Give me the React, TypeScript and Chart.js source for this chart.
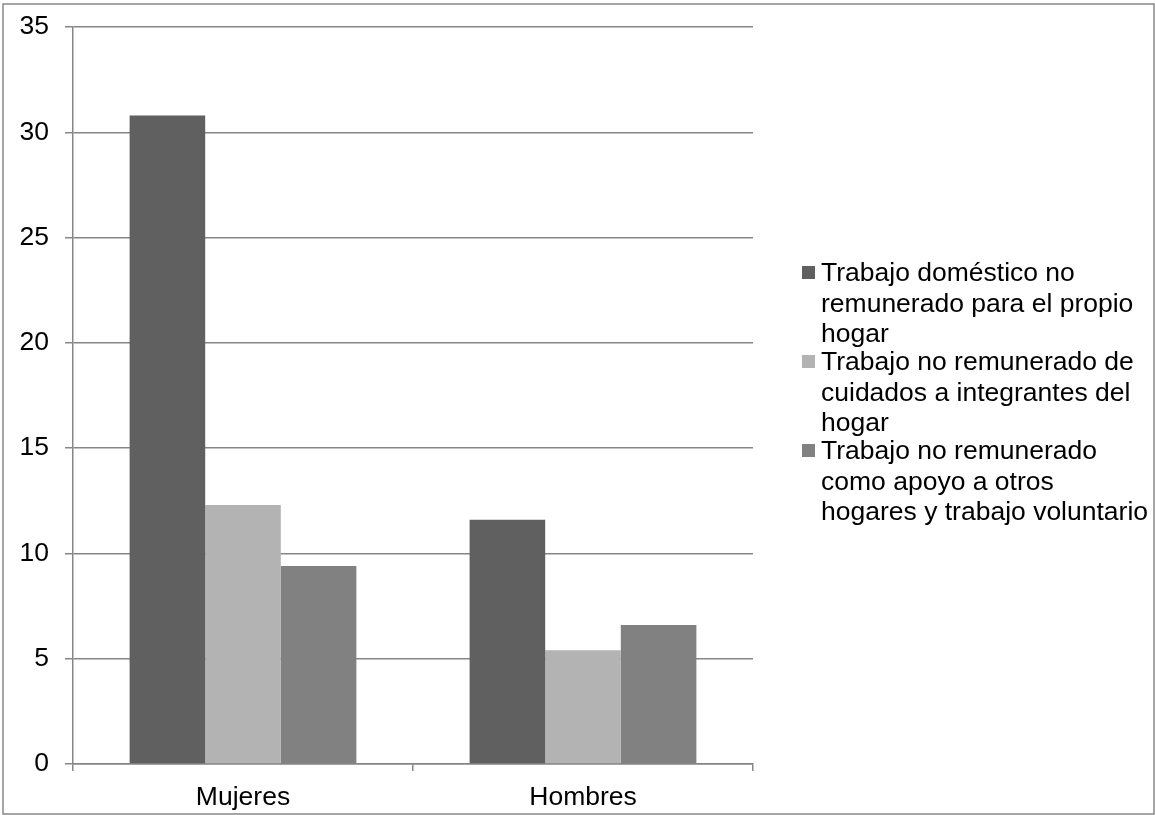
import React, { useEffect, useRef } from "react";
import { Chart, registerables } from "chart.js";

Chart.register(...registerables);

const categories = ["Mujeres", "Hombres"];
const domestico = [30.8, 11.6];
const cuidados = [12.3, 5.4];
const apoyo = [9.4, 6.6];

const seriesNames = [
  "Trabajo doméstico no remunerado para el propio hogar",
  "Trabajo no remunerado de cuidados a integrantes del hogar",
  "Trabajo no remunerado como apoyo a otros hogares y trabajo voluntario",
];
const legendLines = [
  ["Trabajo doméstico no", "remunerado para el propio", "hogar"],
  ["Trabajo no remunerado de", "cuidados a integrantes del", "hogar"],
  ["Trabajo no remunerado", "como apoyo a otros", "hogares y trabajo voluntario"],
];
const seriesColors = ["#606060", "#b3b3b3", "#818181"];
const yMin = 0;
const yMax = 35;
const yStep = 5;

const FONT = "'Liberation Sans', Arial, sans-serif";
const FONT_SIZE = 26.5;
const GRID = "#868686";

const framePlugin = {
  id: "frame",
  afterDraw(chart: any) {
    const ctx = chart.ctx;
    ctx.save();
    ctx.strokeStyle = "#888888";
    ctx.lineWidth = 1.5;
    ctx.strokeRect(3, 4, 1151, 810);
    ctx.restore();
  },
};

const legendPlugin = {
  id: "customLegend",
  afterDraw(chart: any) {
    const ctx = chart.ctx;
    ctx.save();
    ctx.font = `${FONT_SIZE}px ${FONT}`;
    ctx.textBaseline = "alphabetic";
    ctx.textAlign = "left";
    const lineH = 30.5;
    const itemH = 89;
    const firstBaseline = 281;
    chart.data.datasets.forEach((ds: any, i: number) => {
      const base = firstBaseline + i * itemH;
      ctx.fillStyle = ds.backgroundColor;
      ctx.fillRect(802, base - 15, 13, 13);
      ctx.fillStyle = "#000000";
      legendLines[i].forEach((ln, j) => {
        ctx.fillText(ln, 821, base + j * lineH);
      });
    });
    ctx.restore();
  },
};

export default function App() {
  const ref = useRef<HTMLCanvasElement | null>(null);
  useEffect(() => {
    document.body.style.margin = "0";
    const canvas = ref.current!;
    const chart = new Chart(canvas, {
      type: "bar",
      data: {
        labels: categories,
        datasets: [
          { label: seriesNames[0], data: domestico, backgroundColor: seriesColors[0] },
          { label: seriesNames[1], data: cuidados, backgroundColor: seriesColors[1] },
          { label: seriesNames[2], data: apoyo, backgroundColor: seriesColors[2] },
        ],
      },
      options: {
        responsive: false,
        animation: false,
        devicePixelRatio: 1,
        layout: { padding: { left: 0, right: 402, top: 27, bottom: 0 } },
        datasets: { bar: { categoryPercentage: 0.667, barPercentage: 1 } },
        plugins: {
          legend: { display: false },
          tooltip: { enabled: false },
          title: { display: false },
        },
        scales: {
          x: {
            afterFit: (s: any) => {
              s.height = 51;
              s.paddingLeft = 0;
              s.paddingRight = 0;
            },
            grid: {
              offset: true,
              drawOnChartArea: false,
              drawTicks: true,
              tickLength: 7,
              color: GRID,
              lineWidth: 1.5,
            },
            border: { color: GRID, width: 1.5 },
            ticks: {
              color: "#000000",
              font: { family: FONT, size: FONT_SIZE },
              padding: 11,
              maxRotation: 0,
            },
          },
          y: {
            min: yMin,
            max: yMax,
            afterFit: (s: any) => {
              s.width = 73;
              s.paddingTop = 0;
              s.paddingBottom = 0;
            },
            grid: {
              color: GRID,
              lineWidth: 1.5,
              drawTicks: true,
              tickLength: 8,
            },
            border: { color: GRID, width: 1.5 },
            ticks: {
              stepSize: yStep,
              color: "#000000",
              font: { family: FONT, size: FONT_SIZE },
              padding: 16,
            },
          },
        },
      },
      plugins: [framePlugin, legendPlugin],
    });
    return () => chart.destroy();
  }, []);
  return (
    <div style={{ width: 1155, height: 815 }}>
      <canvas ref={ref} width={1155} height={815} style={{ display: "block" }} />
    </div>
  );
}
